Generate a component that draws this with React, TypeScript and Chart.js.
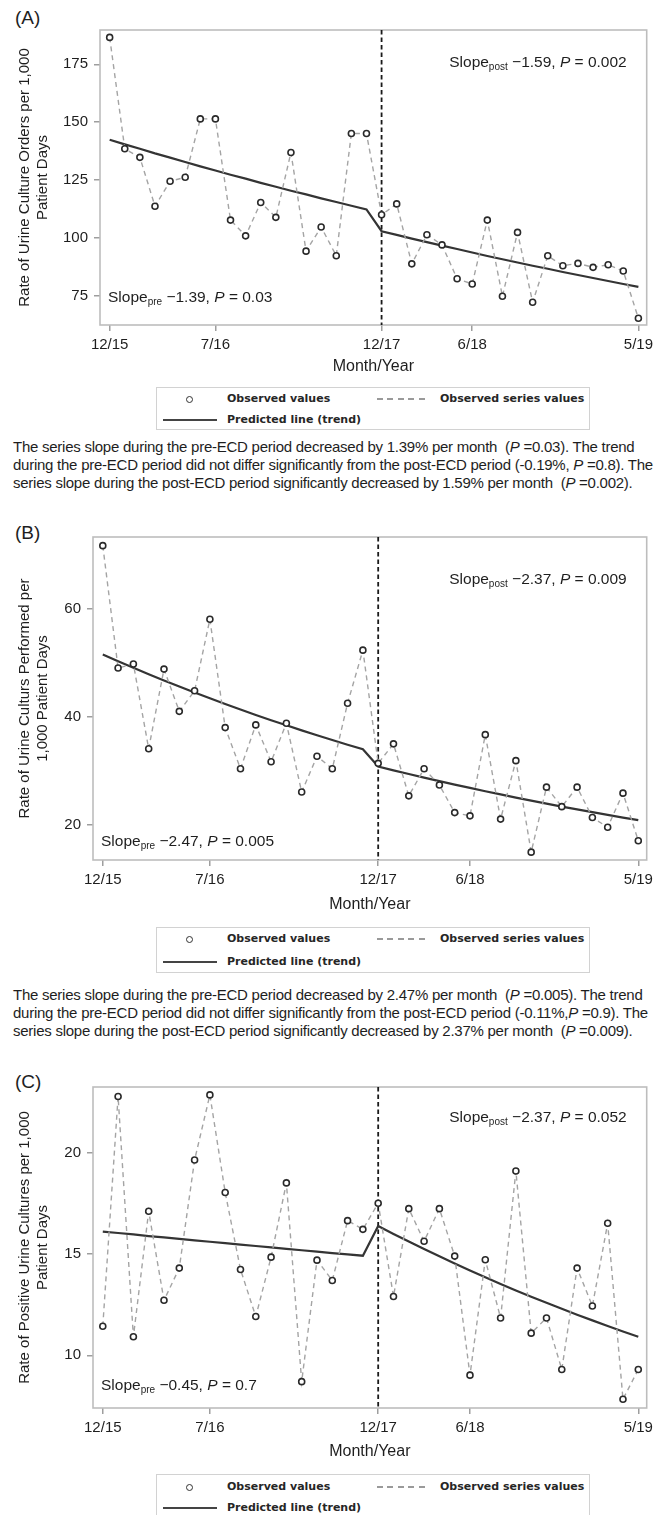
import React, { useEffect, useRef } from "react";
import { Chart, registerables } from "chart.js";

Chart.register(...registerables);

// ---------------- DATA ----------------
const monthIndex = [0, 1, 2, 3, 4, 5, 6, 7, 8, 9, 10, 11, 12, 13, 14, 15, 16, 17, 18, 19, 20, 21, 22, 23, 24, 25, 26, 27, 28, 29, 30, 31, 32, 33, 34, 35];
const xTickIndex = [0, 7, 18, 24, 35];
const xTickLabels = ["12/15", "7/16", "12/17", "6/18", "5/19"];
const interventionIndex = 18;

const ordersObserved = [186.6, 138.5, 134.8, 113.7, 124.5, 126.2, 151.4, 151.4, 107.7, 100.9, 115.3, 108.9, 136.9, 94.3, 104.7, 92.3, 145.1, 145.1, 110.0, 114.7, 88.8, 101.4, 97.0, 82.4, 80.1, 107.7, 74.8, 102.4, 72.2, 92.3, 88.0, 89.0, 87.3, 88.4, 85.7, 65.3];
const ordersTrend = [142.4, 140.4, 138.5, 136.5, 134.7, 132.8, 130.9, 129.1, 127.3, 125.6, 123.8, 122.1, 120.4, 118.8, 117.1, 115.5, 113.9, 112.3, 102.9, 101.3, 99.7, 98.2, 96.7, 95.2, 93.7, 92.2, 90.8, 89.4, 88.0, 86.7, 85.3, 84.0, 82.7, 81.4, 80.1, 78.9];
const ordersYTicks = [75, 100, 125, 150, 175];

const performedObserved = [71.6, 49.0, 49.75, 34.1, 48.8, 41.0, 44.8, 58.0, 38.0, 30.4, 38.5, 31.7, 38.8, 26.1, 32.7, 30.4, 42.5, 52.3, 31.4, 35.0, 25.4, 30.4, 27.4, 22.3, 21.7, 36.7, 21.1, 31.9, 15.0, 27.0, 23.4, 27.0, 21.4, 19.6, 25.9, 17.1];
const performedTrend = [51.5, 50.26, 49.04, 47.86, 46.71, 45.58, 44.48, 43.41, 42.36, 41.34, 40.34, 39.37, 38.42, 37.49, 36.58, 35.7, 34.84, 34.0, 30.8, 30.11, 29.43, 28.76, 28.11, 27.48, 26.86, 26.25, 25.66, 25.08, 24.52, 23.97, 23.42, 22.9, 22.38, 21.88, 21.38, 20.9];
const performedYTicks = [20, 40, 60];

const positiveObserved = [11.43, 22.76, 10.91, 17.1, 12.71, 14.3, 19.63, 22.84, 18.03, 14.23, 11.91, 14.84, 18.5, 8.7, 14.69, 13.69, 16.64, 16.21, 17.5, 12.9, 17.23, 15.62, 17.23, 14.89, 9.02, 14.71, 11.84, 19.09, 11.09, 11.84, 9.3, 14.3, 12.43, 16.51, 7.83, 9.3];
const positiveTrend = [16.1, 16.03, 15.96, 15.88, 15.81, 15.74, 15.67, 15.6, 15.53, 15.46, 15.39, 15.32, 15.25, 15.18, 15.11, 15.04, 14.98, 14.91, 16.37, 15.98, 15.61, 15.24, 14.88, 14.53, 14.18, 13.85, 13.52, 13.2, 12.89, 12.59, 12.29, 12.0, 11.72, 11.44, 11.17, 10.91];
const positiveYTicks = [10, 15, 20];

const panelLabels = ["(A)", "(B)", "(C)"];
const yTitles = [
  ["Rate of Urine Culture Orders per 1,000", "Patient Days"],
  ["Rate of Urine Culturs Performed per", "1,000 Patient Days"],
  ["Rate of Positive Urine Cultures per 1,000", "Patient Days"],
];
const xTitle = "Month/Year";
const preSlopes = ["\u22121.39", "\u22122.47", "\u22120.45"];
const preP = ["0.03", "0.005", "0.7"];
const postSlopes = ["\u22121.59", "\u22122.37", "\u22122.37"];
const postP = ["0.002", "0.009", "0.052"];
const legendLabels = ["Observed values", "Observed series values", "Predicted line (trend)"];
const captionsA = [
  "The series slope during the pre-ECD period decreased by 1.39% per month  ({P} =0.03). The trend",
  "during the pre-ECD period did not differ significantly from the post-ECD period (-0.19%, {P} =0.8). The",
  "series slope during the post-ECD period significantly decreased by 1.59% per month  ({P} =0.002).",
];
const captionsB = [
  "The series slope during the pre-ECD period decreased by 2.47% per month  ({P} =0.005). The trend",
  "during the pre-ECD period did not differ significantly from the post-ECD period (-0.11%,{P} =0.9). The",
  "series slope during the post-ECD period significantly decreased by 2.37% per month  ({P} =0.009).",
];

// ---------------- LAYOUT ----------------
const FONT = '"Liberation Sans", Arial, Helvetica, sans-serif';
const TEXT = "#1e1e1e";
const FRAME_RIGHT = 646.7;

type PanelCfg = {
  idx: number;
  observed: number[];
  trend: number[];
  yTicks: number[];
  yMin: number;
  yMax: number;
  frameTop: number;
  frameBottom: number;
  frameLeft: number;
  monthYearY: number;
  labelY: number;
  postDy: number;
  preDy: number;
  legendTop: number;
  legendH: number;
  row1: number;
  row2: number;
  captions: string[] | null;
  captionTop: number;
};

const panels: PanelCfg[] = [
  {
    idx: 0, observed: ordersObserved, trend: ordersTrend, yTicks: ordersYTicks,
    yMin: 62.4, yMax: 189.8, frameTop: 29, frameBottom: 325, frameLeft: 100,
    monthYearY: 367, labelY: 18, postDy: 33, preDy: -27,
    legendTop: 387, legendH: 43, row1: 399, row2: 419.5,
    captions: captionsA, captionTop: 447,
  },
  {
    idx: 1, observed: performedObserved, trend: performedTrend, yTicks: performedYTicks,
    yMin: 13.55, yMax: 73.2, frameTop: 536, frameBottom: 860, frameLeft: 93,
    monthYearY: 905, labelY: 533, postDy: 43, preDy: -18,
    legendTop: 927, legendH: 46, row1: 939, row2: 961.5,
    captions: captionsB, captionTop: 995,
  },
  {
    idx: 2, observed: positiveObserved, trend: positiveTrend, yTicks: positiveYTicks,
    yMin: 7.4, yMax: 23.23, frameTop: 1086, frameBottom: 1408, frameLeft: 93,
    monthYearY: 1452, labelY: 1082, postDy: 31, preDy: -22,
    legendTop: 1474, legendH: 46, row1: 1487, row2: 1508,
    captions: null, captionTop: 0,
  },
];

const X_MIN = -0.64;
const X_MAX = 35.55;

function drawSlope(ctx: CanvasRenderingContext2D, x: number, y: number, sub: string, slope: string, p: string, align: "left" | "right") {
  const main = `15.5px ${FONT}`;
  const small = `10px ${FONT}`;
  const ital = `italic 15.5px ${FONT}`;
  const parts = [
    { t: "Slope", f: main, dy: 0 },
    { t: sub, f: small, dy: 4 },
    { t: ` ${slope}, `, f: main, dy: 0 },
    { t: "P", f: ital, dy: 0 },
    { t: ` = ${p}`, f: main, dy: 0 },
  ];
  let total = 0;
  for (const pt of parts) {
    ctx.font = pt.f;
    total += ctx.measureText(pt.t).width;
  }
  let cx = align === "right" ? x - total : x;
  ctx.textBaseline = "middle";
  ctx.textAlign = "left";
  ctx.fillStyle = TEXT;
  for (const pt of parts) {
    ctx.font = pt.f;
    ctx.fillText(pt.t, cx, y + pt.dy);
    cx += ctx.measureText(pt.t).width;
  }
}

function ChartPanel({ cfg }: { cfg: PanelCfg }) {
  const ref = useRef<HTMLCanvasElement>(null);
  const canvasTop = cfg.frameTop - 14;
  const canvasBottom = cfg.monthYearY + 12;
  const height = canvasBottom - canvasTop;

  useEffect(() => {
    if (!ref.current) return;
    const toPts = (arr: number[]) => monthIndex.map((m, i) => ({ x: m, y: arr[i] }));
    const overlay = {
      id: "overlay" + cfg.idx,
      beforeDatasetsDraw(chart: any) {
        const { ctx, chartArea } = chart;
        ctx.save();
        ctx.strokeStyle = "#bdbdbd";
        ctx.lineWidth = 1.6;
        ctx.strokeRect(chartArea.left, chartArea.top, chartArea.right - chartArea.left, chartArea.bottom - chartArea.top);
        const vx = chart.scales.x.getPixelForValue(interventionIndex);
        ctx.strokeStyle = "#1a1a1a";
        ctx.lineWidth = 1.8;
        ctx.setLineDash([4.5, 3]);
        ctx.beginPath();
        ctx.moveTo(vx, chartArea.top);
        ctx.lineTo(vx, chartArea.bottom);
        ctx.stroke();
        ctx.restore();
      },
      afterDatasetsDraw(chart: any) {
        const { ctx, chartArea } = chart;
        ctx.save();
        drawSlope(ctx, chartArea.right - 20, chartArea.top + cfg.postDy, "post", postSlopes[cfg.idx], postP[cfg.idx], "right");
        drawSlope(ctx, chartArea.left + 8, chartArea.bottom + cfg.preDy, "pre", preSlopes[cfg.idx], preP[cfg.idx], "left");
        ctx.restore();
      },
    };

    const chart = new Chart(ref.current, {
      type: "line",
      data: {
        datasets: [
          {
            label: legendLabels[0],
            data: toPts(cfg.observed),
            showLine: false,
            pointRadius: 3,
            pointBorderWidth: 1.6,
            pointBorderColor: "#2a2a2a",
            pointBackgroundColor: "#ffffff",
            order: 0,
          },
          {
            label: legendLabels[1],
            data: toPts(cfg.observed),
            borderColor: "#a4a4a4",
            borderWidth: 1.4,
            borderDash: [5, 4],
            pointRadius: 0,
            tension: 0,
            order: 1,
          },
          {
            label: legendLabels[2],
            data: toPts(cfg.trend),
            borderColor: "#343434",
            borderWidth: 2.2,
            pointRadius: 0,
            tension: 0,
            order: 2,
          },
        ],
      } as any,
      options: {
        animation: false,
        responsive: false,
        maintainAspectRatio: false,
        layout: { padding: { top: 14, left: 0, right: 663 - FRAME_RIGHT, bottom: 0 } },
        plugins: { legend: { display: false }, tooltip: { enabled: false } },
        scales: {
          x: {
            type: "linear",
            min: X_MIN,
            max: X_MAX,
            afterBuildTicks: (s: any) => {
              s.ticks = xTickIndex.map((v) => ({ value: v }));
            },
            ticks: {
              autoSkip: false,
              maxRotation: 0,
              padding: 5,
              color: TEXT,
              font: { size: 15, family: FONT },
              callback: (v: any) => {
                const k = xTickIndex.indexOf(Number(v));
                return k >= 0 ? xTickLabels[k] : "";
              },
            },
            grid: { drawOnChartArea: false, drawTicks: true, tickLength: 6, color: "#9e9e9e", lineWidth: 1.5 },
            border: { display: false },
            title: { display: true, text: xTitle, color: TEXT, font: { size: 16, family: FONT }, padding: { top: 0, bottom: 2.4 } },
            afterFit: (s: any) => {
              s.height = canvasBottom - cfg.frameBottom;
            },
          },
          y: {
            min: cfg.yMin,
            max: cfg.yMax,
            afterBuildTicks: (s: any) => {
              s.ticks = cfg.yTicks.map((v) => ({ value: v }));
            },
            ticks: { padding: 6, color: TEXT, font: { size: 15, family: FONT }, callback: (v: any) => String(v) },
            grid: { drawOnChartArea: false, drawTicks: true, tickLength: 6, color: "#9e9e9e", lineWidth: 1.5 },
            border: { display: false },
            title: {
              display: true,
              text: yTitles[cfg.idx],
              color: TEXT,
              font: { size: 15, family: FONT, lineHeight: 1.15 },
              padding: { top: 16.5, bottom: 0 },
            },
            afterFit: (s: any) => {
              s.width = cfg.frameLeft;
            },
          },
        },
      } as any,
      plugins: [overlay],
    });
    return () => chart.destroy();
  }, []);

  return (
    <canvas
      ref={ref}
      width={663}
      height={height}
      style={{ position: "absolute", left: 0, top: canvasTop, width: 663, height }}
    />
  );
}

function CaptionLine({ text, top }: { text: string; top: number }) {
  const parts = text.split("{P}");
  return (
    <div
      style={{
        position: "absolute",
        left: 13,
        top: top - 9,
        height: 18,
        lineHeight: "18px",
        fontFamily: FONT,
        fontSize: 15,
        letterSpacing: "-0.25px",
        color: TEXT,
        whiteSpace: "pre",
      }}
    >
      {parts.map((p, i) => (
        <React.Fragment key={i}>
          {i > 0 && <i>P</i>}
          {p}
        </React.Fragment>
      ))}
    </div>
  );
}

function Legend({ cfg }: { cfg: PanelCfg }) {
  const lf: React.CSSProperties = {
    position: "absolute",
    fontFamily: '"DejaVu Sans", Verdana, sans-serif',
    fontWeight: "bold",
    fontSize: 11,
    lineHeight: "16px",
    color: "#262626",
    whiteSpace: "nowrap",
  };
  return (
    <>
      <div
        style={{
          position: "absolute",
          left: 156,
          top: cfg.legendTop,
          width: 434,
          height: cfg.legendH,
          border: "1.5px solid #d2d2d2",
          boxSizing: "border-box",
        }}
      />
      <div
        style={{
          position: "absolute",
          left: 185.5,
          top: cfg.row1 - 3.5,
          width: 7,
          height: 7,
          border: "1.5px solid #333",
          borderRadius: "50%",
          boxSizing: "border-box",
        }}
      />
      <div style={{ ...lf, left: 227, top: cfg.row1 - 8 }}>{legendLabels[0]}</div>
      <div
        style={{
          position: "absolute",
          left: 377,
          top: cfg.row1 - 0.75,
          width: 50,
          height: 1.5,
          background: "repeating-linear-gradient(to right, #9a9a9a 0 6px, transparent 6px 10.5px)",
        }}
      />
      <div style={{ ...lf, left: 440, top: cfg.row1 - 8 }}>{legendLabels[1]}</div>
      <div
        style={{ position: "absolute", left: 163, top: cfg.row2 - 1, width: 54, height: 2, background: "#444" }}
      />
      <div style={{ ...lf, left: 227, top: cfg.row2 - 8 }}>{legendLabels[2]}</div>
    </>
  );
}

export default function App() {
  return (
    <div style={{ position: "absolute", left: 0, top: 0, width: 663, height: 1515, overflow: "hidden", background: "#fff" }}>
      {panels.map((cfg) => (
        <React.Fragment key={cfg.idx}>
          <div
            style={{
              position: "absolute",
              left: 15,
              top: cfg.labelY - 12,
              lineHeight: "24px",
              fontFamily: FONT,
              fontSize: 19,
              color: TEXT,
            }}
          >
            {panelLabels[cfg.idx]}
          </div>
          <ChartPanel cfg={cfg} />
          <Legend cfg={cfg} />
          {cfg.captions &&
            cfg.captions.map((t, i) => <CaptionLine key={i} text={t} top={cfg.captionTop + i * 18} />)}
        </React.Fragment>
      ))}
    </div>
  );
}
